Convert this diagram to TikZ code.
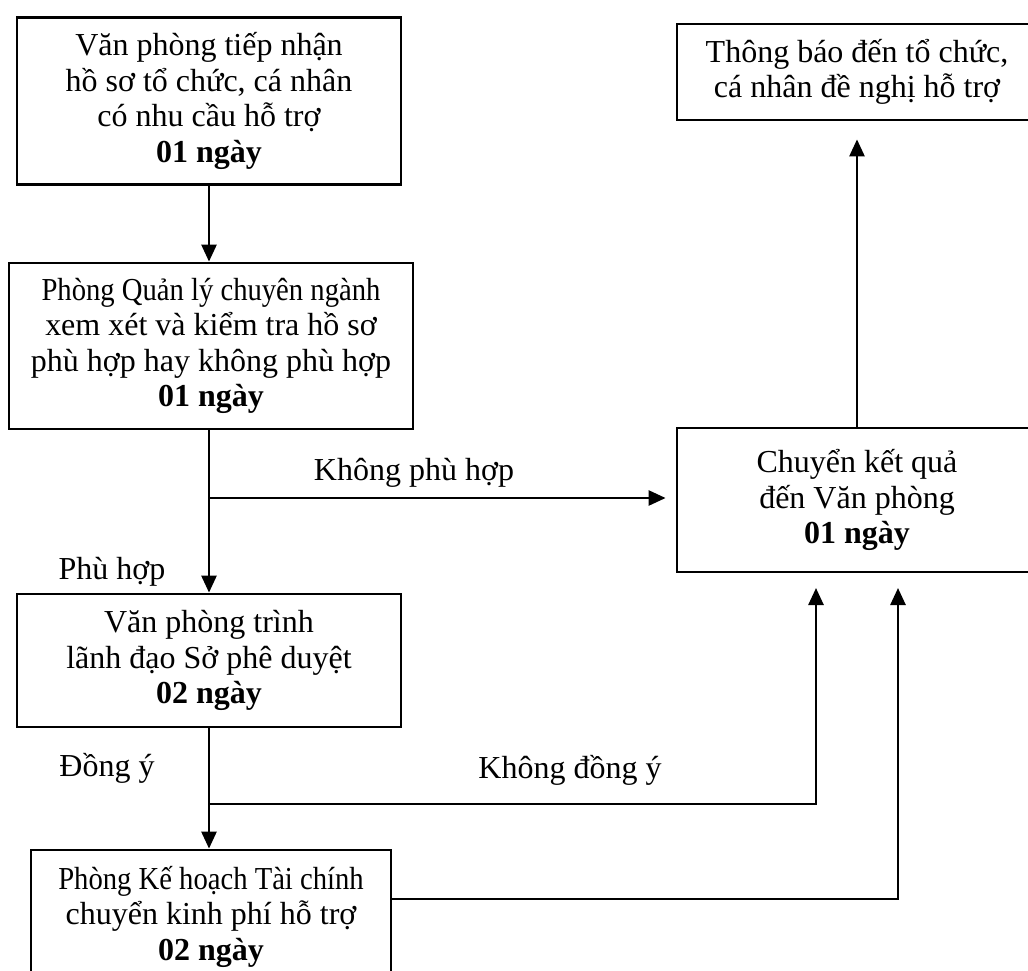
\documentclass[tikz,border=0pt]{standalone}
\usepackage{graphicx}
\usepackage{fontspec}
\setmainfont{Liberation Serif}
\usetikzlibrary{arrows.meta, positioning, calc}
\newcommand{\squeeze}[1]{\scalebox{0.895}[1]{#1}}

\tikzset{
  box/.style={draw, line width=2.8pt, rectangle, align=center, inner sep=0pt,
              font=\fontsize{32}{35.5}\selectfont},
  lbl/.style={font=\fontsize{32}{35.5}\selectfont, inner sep=0pt},
  arr/.style={line width=2.6pt, -{Triangle[width=15pt,length=17pt]}}
}

\begin{document}
\begin{tikzpicture}[x=1pt, y=-1pt]
  \useasboundingbox (0,0) rectangle (1028,971);
  \clip (0,0) rectangle (1028,971);

  % Left column
  \node[box, minimum width=384pt, minimum height=167pt] (recv) at (209,101)
    {Văn phòng tiếp nhận\\hồ sơ tổ chức, cá nhân\\có nhu cầu hỗ trợ\\\textbf{01 ngày}};
  \node[box, minimum width=404pt, minimum height=166pt] (check) at (211,346)
    {\squeeze{Phòng Quản lý chuyên ngành}\\xem xét và kiểm tra hồ sơ\\phù hợp hay không phù hợp\\\textbf{01 ngày}};
  \node[box, minimum width=384pt, minimum height=133pt] (approve) at (209,660.5)
    {Văn phòng trình\\lãnh đạo Sở phê duyệt\\\textbf{02 ngày}};
  \node[box, minimum width=360pt, minimum height=133pt] (fund) at (211,916.5)
    {\squeeze{Phòng Kế hoạch Tài chính}\\chuyển kinh phí hỗ trợ\\\textbf{02 ngày}};

  % Right column
  \node[box, minimum width=360pt, minimum height=96pt] (notify) at (857,72)
    {Thông báo đến tổ chức,\\cá nhân đề nghị hỗ trợ};
  \node[box, minimum width=360pt, minimum height=144pt] (result) at (857,500)
    {Chuyển kết quả\\đến Văn phòng\\\textbf{01 ngày}};

  % Branch points
  \coordinate (b1) at (209,498);
  \coordinate (b2) at (209,804);
  \coordinate (t1) at (816,588);
  \coordinate (t2) at (898,588);

  % Connectors
  \draw[arr] (recv.south) -- (recv.south |- check.north);
  \draw[arr] (check.south -| approve.north) -- (approve.north);
  \draw[arr] (b1) -- ([xshift=-10pt]result.west |- b1);
  \draw[arr] (approve.south) -- (approve.south |- fund.north);
  \draw[arr] (b2) -| (t1);
  \draw[arr] ([yshift=17.5pt]fund.east) -| (t2);
  \draw[arr] (result.north) -- ([yshift=-18pt]notify.south);

  % Labels
  \node[lbl] (nofit) at (414,473) {Không phù hợp};
  \node[lbl] (fit) at (112,572) {Phù hợp};
  \node[lbl] (noagree) at (570,770) {Không đồng ý};
  \node[lbl] (agree) at (107,768) {Đồng ý};
\end{tikzpicture}
\end{document}
